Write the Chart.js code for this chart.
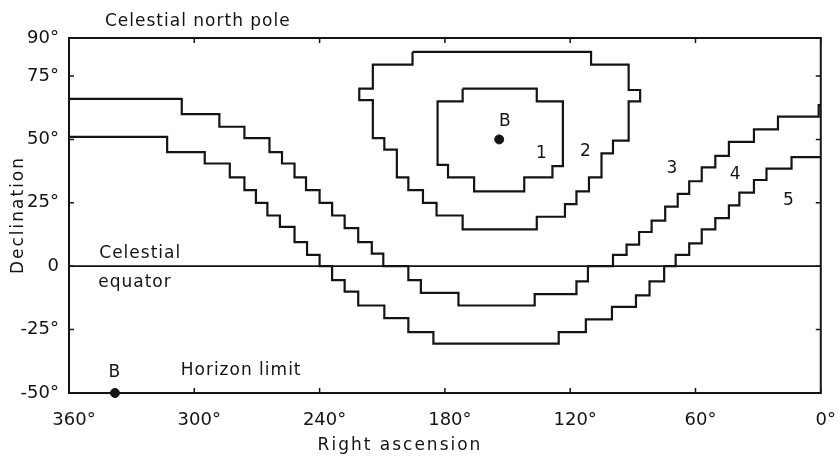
<!DOCTYPE html>
<html>
<head>
<meta charset="utf-8">
<script src="https://cdn.jsdelivr.net/npm/chart.js@4.4.1/dist/chart.umd.min.js"></script>
<style>
    html, body { margin: 0; padding: 0; background: #fff; }
</style>
</head>
<body>
<canvas id="sky-chart" width="840" height="462"></canvas>
<script>
// tick values (degrees)
const raTicks = [360, 300, 240, 180, 120, 60, 0];
const decTicks = [-50, -25, 0, 25, 50, 75, 90];

// zone 1 : inner box round B (start of each horizontal run)
const zone1RA = [171.5, 136, 123.5, 128.5, 142, 166, 178.5, 183.5, 171.5];
const zone1Dec = [70, 65, 39.5, 35, 29.5, 35, 40, 65, 70];

// zone 2 : outer box
const zone2RA = [195.5, 110, 92, 86.5, 92, 99.5, 105, 111, 117, 122.5, 136, 171.5, 184, 190.5, 197.5, 203, 209, 214.5, 221, 214.5, 195.5];
const zone2Dec = [84.5, 79.5, 69.5, 65, 49.5, 44.5, 35, 29.5, 24.5, 19.5, 14.5, 20, 25, 30, 35, 46, 50.5, 65.5, 70, 79.5, 84.5];

// boundary between zones 3 and 4
const edge34RA = [360, 306, 288, 276, 264, 258, 252, 246.5, 240, 234, 228, 221.5, 215, 209.5, 197.5, 191.5, 173.5, 137, 117, 111.5, 99.5, 93, 87, 81, 74.5, 68.5, 63, 57, 50.5, 44, 32, 20.5, 1, 0];
const edge34Dec = [66, 60, 55, 50.5, 45, 40.5, 35, 30, 25, 20, 15, 9.5, 5, 0, -5.5, -10.5, -15.5, -11, -6, 0, 4.5, 8.5, 13.5, 18, 23.5, 28.5, 33.5, 39, 43.5, 49, 54, 59, 63.5, 63.5];

// boundary between zones 4 and 5
const edge45RA = [360, 313, 295, 283, 276, 270.5, 265, 259, 252, 246, 240, 234, 228, 221.5, 209, 197.5, 185.5, 125.5, 112.5, 100, 88.5, 82, 75, 69.5, 63, 57, 50.5, 44, 39, 32, 26, 14, 0];
const edge45Dec = [51, 45, 40.5, 35, 30, 25, 20, 15.5, 9.5, 4.5, 0, -5.5, -10, -15.5, -20.5, -26, -30.5, -26, -21, -16, -11.5, -6, 0, 4.5, 9, 14.5, 19, 24, 29, 34, 38.5, 43, 43];

// celestial equator
const equatorRA = [360, 0];
const equatorDec = [0, 0];

// position of B
const pointBRA = [154, 338];
const pointBDec = [50, -50];

const ink = '#141414';
const toPoints = (ra, dec) => ra.map((r, i) => ({ x: r, y: dec[i] }));

function stepLine(ra, dec) {
    return {
        data: toPoints(ra, dec),
        showLine: true,
        stepped: true,
        borderColor: ink,
        borderWidth: 2.2,
        borderJoinStyle: 'miter',
        pointRadius: 0,
        fill: false
    };
}

// texts, frame and inward ticks
const figureText = {
    id: 'figureText',
    afterDraw(chart) {
        const { ctx, chartArea: a, scales: { x, y } } = chart;
        ctx.save();
        ctx.strokeStyle = ink;
        ctx.lineWidth = 2;
        ctx.strokeRect(a.left, a.top, a.right - a.left, a.bottom - a.top);

        ctx.lineWidth = 1.5;
        ctx.beginPath();
        decTicks.forEach(v => {
            const py = y.getPixelForValue(v);
            ctx.moveTo(a.left, py); ctx.lineTo(a.left + 5, py);
            ctx.moveTo(a.right, py); ctx.lineTo(a.right - 5, py);
        });
        raTicks.forEach(v => {
            const px = x.getPixelForValue(v);
            ctx.moveTo(px, a.bottom); ctx.lineTo(px, a.bottom - 5);
            ctx.moveTo(px, a.top); ctx.lineTo(px, a.top + 5);
        });
        ctx.stroke();

        ctx.fillStyle = ink;
        ctx.textBaseline = 'middle';
        ctx.font = '17px "DejaVu Sans"';
        ctx.letterSpacing = '1px';

        ctx.textAlign = 'left';
        ctx.fillText('Celestial north pole', 105, 22);

        const notes = [
            ['Celestial', 345.5, 4.8, 'left'],
            ['equator', 346, -6.6, 'left'],
            ['Horizon limit', 306.5, -41.3, 'left'],
            ['B', 151, 57, 'center'],
            ['B', 338, -42, 'center'],
            ['1', 133.5, 44.6, 'center'],
            ['2', 112.5, 45.4, 'center'],
            ['3', 71, 38.7, 'center'],
            ['4', 40.7, 36, 'center'],
            ['5', 15.2, 25.7, 'center']
        ];
        notes.forEach(([t, ra, dec, al]) => {
            ctx.textAlign = al;
            ctx.fillText(t, x.getPixelForValue(ra), y.getPixelForValue(dec));
        });

        ctx.letterSpacing = '2px';
        ctx.textAlign = 'center';
        ctx.fillText('Right ascension', 400, 446);

        ctx.translate(19, 215);
        ctx.rotate(-Math.PI / 2);
        ctx.fillText('Declination', 0, 0);
        ctx.restore();
    }
};

Chart.defaults.font.family = '"DejaVu Sans", sans-serif';
Chart.defaults.color = ink;

new Chart(document.getElementById('sky-chart'), {
    type: 'scatter',
    data: {
        datasets: [
            { data: toPoints(equatorRA, equatorDec), showLine: true, borderColor: ink, borderWidth: 1.8, pointRadius: 0 },
            stepLine(zone1RA, zone1Dec),
            stepLine(zone2RA, zone2Dec),
            stepLine(edge34RA, edge34Dec),
            stepLine(edge45RA, edge45Dec),
            { data: toPoints(pointBRA, pointBDec), pointRadius: 4.5, pointBackgroundColor: ink, pointBorderColor: ink, clip: false }
        ]
    },
    options: {
        responsive: false,
        animation: false,
        layout: { padding: { top: 38, right: 10, left: 0, bottom: 0 }, autoPadding: false },
        plugins: { legend: { display: false }, tooltip: { enabled: false } },
        scales: {
            x: {
                type: 'linear',
                min: 0,
                max: 360,
                reverse: true,
                afterFit(scale) { scale.height = 69; },
                afterBuildTicks(scale) { scale.ticks = raTicks.map(v => ({ value: v })); },
                ticks: { callback: v => v + '°', padding: 9, labelOffset: 5, maxRotation: 0, autoSkip: false, font: { size: 18 } },
                grid: { display: false },
                border: { display: false }
            },
            y: {
                type: 'linear',
                min: -50,
                max: 90,
                afterFit(scale) { scale.width = 69; },
                afterBuildTicks(scale) { scale.ticks = decTicks.map(v => ({ value: v })); },
                ticks: { callback: v => (v === 0 ? '0' : v + '°'), padding: 2, autoSkip: false, font: { size: 18 } },
                grid: { display: false },
                border: { display: false }
            }
        }
    },
    plugins: [figureText]
});
</script>
</body>
</html>
